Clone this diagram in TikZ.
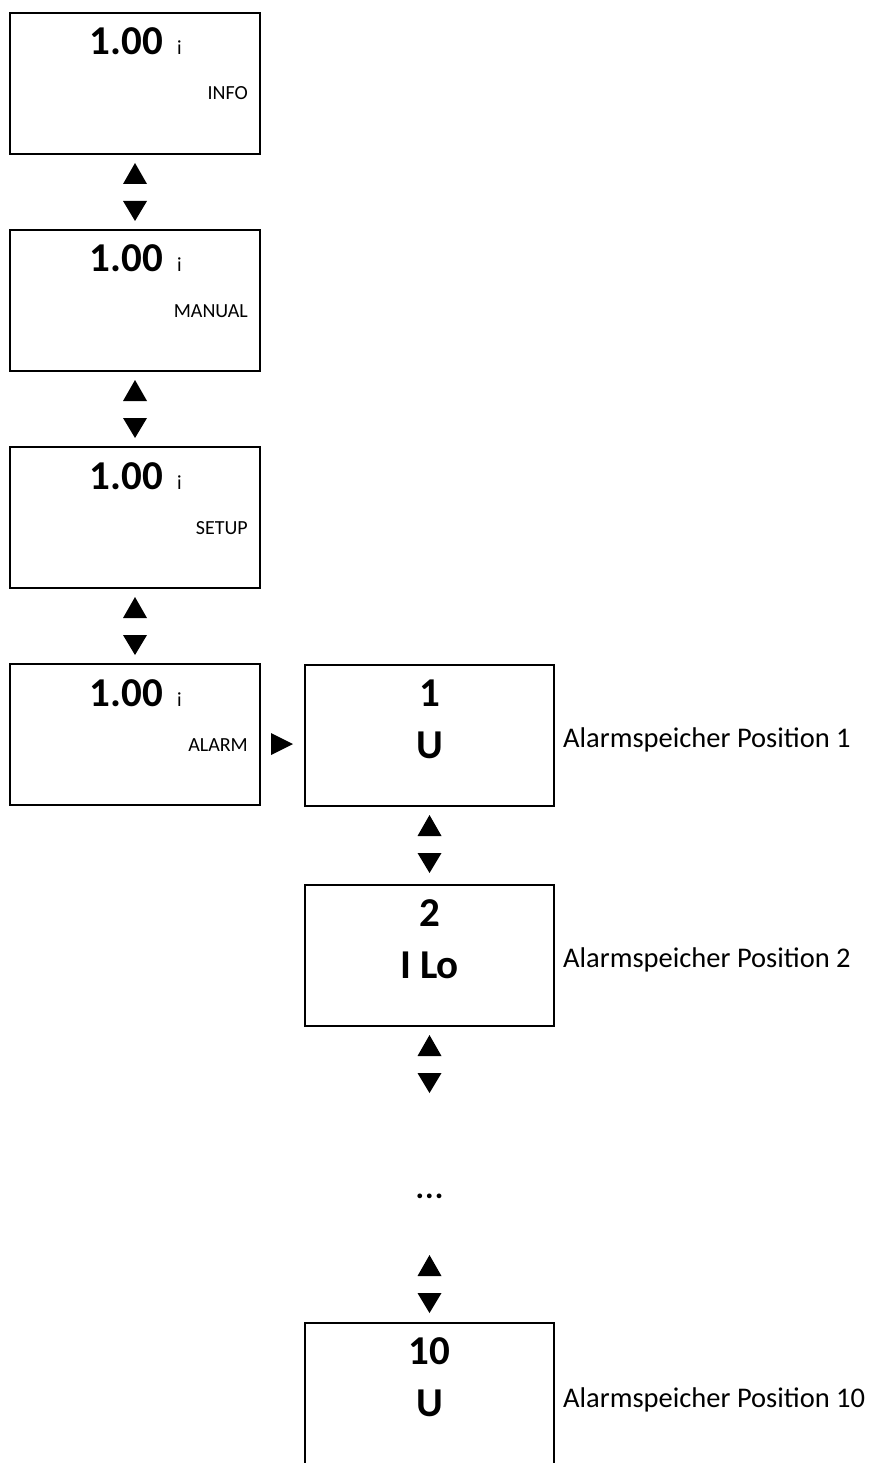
\documentclass[tikz,border=0pt]{standalone}
\usepackage{fontspec}
\setmainfont{Carlito}
\usetikzlibrary{calc}
\begin{document}
\begin{tikzpicture}[x=1pt,y=-1pt,
  disp/.style={draw, line width=2.6pt, rectangle, minimum width=250pt, minimum height=141pt, inner sep=0pt, outer sep=0pt, anchor=north west},
  big/.style={font=\fontsize{41}{48}\selectfont\bfseries, inner sep=0pt},
  small/.style={font=\fontsize{20}{24}\selectfont, inner sep=0pt},
  lab/.style={font=\fontsize{28.5}{34}\selectfont, inner sep=0pt, anchor=base west},
  updown/.pic={
    \fill (-12,30) -- (12,30) -- (0,9) -- cycle;
    \fill (-12,47) -- (12,47) -- (0,67) -- cycle;
  }]
\fill[white] (0,0) rectangle (880,1463);
\clip (0,0) rectangle (880,1463);

% left column
\foreach \i/\t in {1/INFO,2/MANUAL,3/SETUP,4/ALARM}{
  \node[disp] (b\i) at (10,{13+217*(\i-1)}) {};
  \node[big, anchor=base east] (v\i) at ($(b\i.north west)+(153,42)$) {1.00};
  \node[small, anchor=base west] (i\i) at ($(b\i.north west)+(167,42)$) {i};
  \node[small, anchor=base east] (t\i) at ($(b\i.north west)+(238,87)$) {\t};
}
\pic at (b1.south) {updown};
\pic at (b2.south) {updown};
\pic at (b3.south) {updown};

% right column
\node[disp, minimum width=249pt] (r1) at (305,665) {};
\node[disp, minimum width=249pt] (r2) at (305,885) {};
\node[disp, minimum width=249pt, minimum height=170pt] (r3) at (305,1323) {};

\node[big, anchor=base] (n1) at ($(r1.north)+(0,41)$) {1};
\node[big, anchor=base] (u1) at ($(r1.north)+(0,93)$) {U};
\node[big, anchor=base] (n2) at ($(r2.north)+(0,41)$) {2};
\node[big, anchor=base] (u2) at ($(r2.north)+(0,93)$) {I Lo};
\node[big, anchor=base] (n3) at ($(r3.north)+(0,41)$) {10};
\node[big, anchor=base] (u3) at ($(r3.north)+(0,93)$) {U};

\node[font=\fontsize{32}{36}\selectfont\bfseries, inner sep=0pt, anchor=base] (dots) at (429.5,1198) {.\kern1pt.\kern1pt.};

\pic at (r1.south) {updown};
\pic at (r2.south) {updown};
\pic at ($(r3.north)+(0,-77)$) {updown};

% right arrow from ALARM to position 1
\fill ($(b4.north east)+(11,69)$) -- ($(b4.north east)+(11,91)$) -- ($(b4.north east)+(33,80)$) -- cycle;

% labels
\node[lab] (l1) at ($(r1.north east)+(9,82)$) {Alarmspeicher Position 1};
\node[lab] (l2) at ($(r2.north east)+(9,82)$) {Alarmspeicher Position 2};
\node[lab] (l3) at ($(r3.north east)+(9,84)$) {Alarmspeicher Position 10};
\end{tikzpicture}
\end{document}
